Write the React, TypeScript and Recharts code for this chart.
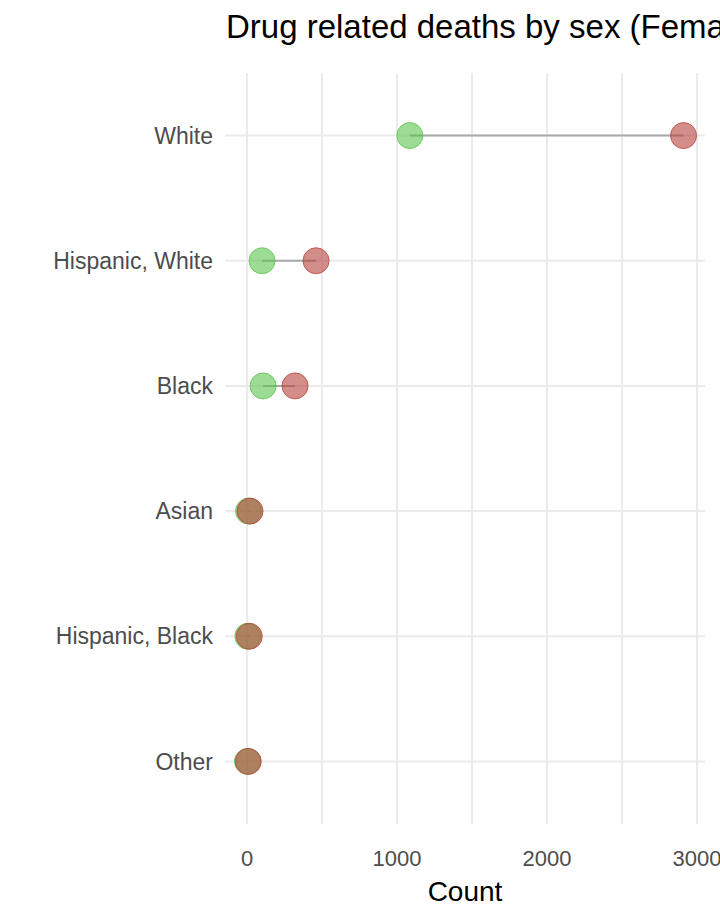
import React from 'react';
import { ScatterChart, Scatter, XAxis, YAxis, CartesianGrid } from 'recharts';

const categories = ['Other', 'Hispanic, Black', 'Asian', 'Black', 'Hispanic, White', 'White'];
const female = [3, 5, 10, 107, 100, 1085];
const male = [8, 15, 20, 320, 460, 2910];
const xTicks = [0, 500, 1000, 1500, 2000, 2500, 3000];
const yTicks = [1, 2, 3, 4, 5, 6];

const femaleData = categories.map((c, i) => ({ x: female[i], y: i + 1 }));
const maleData = categories.map((c, i) => ({ x: male[i], y: i + 1 }));
const segs = categories.map((c, i) => [{ x: female[i], y: i + 1 }, { x: male[i], y: i + 1 }]);

const font = 'Liberation Sans, Arial, sans-serif';

export default function App() {
  return (
    <div style={{ position: 'absolute', left: 0, top: 0, width: 930, height: 921, fontFamily: font }}>
      <div style={{ position: 'absolute', left: 226, top: 8, fontSize: 33, color: '#000', whiteSpace: 'nowrap' }}>
        Drug related deaths by sex (Female vs Male)
      </div>
      <ScatterChart width={930} height={921} margin={{ top: 73, right: 225, bottom: 0, left: 0 }}>
        <CartesianGrid stroke="#ebebeb" strokeWidth={2} syncWithTicks />
        <XAxis type="number" dataKey="x" domain={[-147, 3053]} ticks={xTicks} allowDataOverflow
          tickFormatter={(v: number) => (v % 1000 === 0 ? String(v) : '')}
          axisLine={false} tickLine={false} height={97}
          tick={{ fontSize: 22, fill: '#4d4d4d', fontFamily: font, dy: 18 }}
          label={{ value: 'Count', position: 'insideBottom', offset: 20, fontSize: 28, fill: '#000', fontFamily: font }} />
        <YAxis type="number" dataKey="y" domain={[0.5, 6.5]} ticks={yTicks} width={225}
          tickFormatter={(v: number) => categories[v - 1]} axisLine={false} tickLine={false}
          tick={{ fontSize: 23, fill: '#4d4d4d', fontFamily: font, dx: -4 }} />
        {segs.map((s, i) => (
          <Scatter key={i} data={s} line={{ stroke: '#a9a9a9', strokeWidth: 2 }} shape={() => null} isAnimationActive={false} />
        ))}
        <Scatter data={femaleData} fill="#5cc44c" isAnimationActive={false}
          shape={(p: any) => <circle cx={p.cx} cy={p.cy} r={13} fill="#5cc44c" fillOpacity={0.6} stroke="#5cc44c" strokeOpacity={0.8} />} />
        <Scatter data={maleData} fill="#b8433c" isAnimationActive={false}
          shape={(p: any) => <circle cx={p.cx} cy={p.cy} r={13} fill="#b8433c" fillOpacity={0.6} stroke="#b8433c" strokeOpacity={0.8} />} />
      </ScatterChart>
    </div>
  );
}
